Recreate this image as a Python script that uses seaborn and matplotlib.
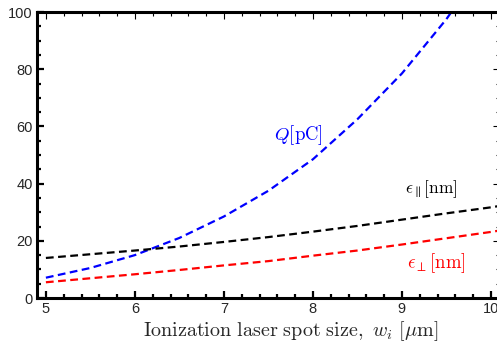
import matplotlib
matplotlib.use("Agg")
import matplotlib.pyplot as plt
import seaborn as sns
import pandas as pd
from matplotlib.ticker import MultipleLocator

# spot size w_i [um]
w_q = [5.0, 5.5, 6.0, 6.5, 7.0, 7.5, 8.0, 8.5, 9.0, 9.5, 9.6]
charge_pc = [7.1, 10.5, 15.0, 21.0, 28.5, 37.5, 48.5, 62.5, 78.5, 97.5, 102.0]

w_e = [5.0, 5.5, 6.0, 6.5, 7.0, 7.5, 8.0, 8.5, 9.0, 9.5, 10.0, 10.1]
eps_par_nm = [14.0, 15.3, 16.6, 18.0, 19.6, 21.3, 23.2, 25.2, 27.4, 29.6, 31.7, 32.2]
eps_perp_nm = [5.5, 6.9, 8.3, 9.8, 11.4, 12.9, 14.8, 16.6, 18.7, 20.9, 23.1, 23.6]

xticks = [5, 6, 7, 8, 9, 10]
yticks = [0, 20, 40, 60, 80, 100]

sns.set_style("ticks")
plt.rcParams["mathtext.fontset"] = "cm"
plt.rcParams["font.family"] = ["Liberation Sans", "DejaVu Sans"]

fig = plt.figure(figsize=(4.97, 3.42), dpi=100)
ax = fig.add_axes([37 / 497, 44 / 342, 462.8 / 497, 286 / 342])

df_q = pd.DataFrame({"w": w_q, "v": charge_pc})
df_e = pd.DataFrame({"w": w_e, "par": eps_par_nm, "perp": eps_perp_nm})

sns.lineplot(data=df_q, x="w", y="v", ax=ax, color=(0, 0, 1), linewidth=1.6,
             linestyle="--", sort=False, estimator=None)
sns.lineplot(data=df_e, x="w", y="par", ax=ax, color="black", linewidth=1.6,
             linestyle="--", sort=False, estimator=None)
sns.lineplot(data=df_e, x="w", y="perp", ax=ax, color=(1, 0, 0), linewidth=1.6,
             linestyle="--", sort=False, estimator=None)
for ln in ax.get_lines():
    ln.set_dashes((3.5, 2.0))
    ln.set_clip_on(True)

ax.set_xlim(4.9, 10.1)
ax.set_ylim(0, 100)
ax.set_xticks(xticks)
ax.set_xticklabels([str(t) for t in xticks])
ax.set_yticks(yticks)
ax.set_yticklabels([str(t) for t in yticks])
ax.xaxis.set_minor_locator(MultipleLocator(0.2))
ax.yaxis.set_minor_locator(MultipleLocator(5))

for side in ["left", "bottom", "top", "right"]:
    ax.spines[side].set_visible(True)
    ax.spines[side].set_linewidth(2.2)
    ax.spines[side].set_color("black")

ax.tick_params(axis="both", which="major", direction="in", length=5, width=1.6,
               color="black", labelsize=10.5, pad=3)
ax.tick_params(axis="both", which="minor", direction="in", length=3, width=1.6,
               color="black")
# faint ticks on the top/right edges (Mathematica-style frame)
ax.tick_params(axis="x", which="both", top=True, labeltop=False)
ax.tick_params(axis="y", which="both", right=True, labelright=False)
for t in ax.xaxis.get_major_ticks() + ax.xaxis.get_minor_ticks():
    t.tick2line.set_color("#c8c8c8")
    t.tick2line.set_markeredgewidth(0.8)
for t in ax.yaxis.get_major_ticks() + ax.yaxis.get_minor_ticks():
    t.tick2line.set_color("#c8c8c8")
    t.tick2line.set_markeredgewidth(0.8)

ax.set_xlabel(r"$\mathrm{Ionization\ laser\ spot\ size,}\ w_i\ [\mu\mathrm{m}]$",
              fontsize=14.5, labelpad=1)
ax.xaxis.set_label_coords(0.548, -0.075)
ax.set_ylabel("")

ax.text(7.84, 57, r"$Q[\mathrm{pC}]$", color=(0, 0, 1), fontsize=13.5,
        ha="center", va="center")
ax.text(9.33, 38, r"$\epsilon_{\parallel}[\mathrm{nm}]$", color="black",
        fontsize=12.5, ha="center", va="center")
ax.text(9.39, 12.2, r"$\epsilon_{\perp}[\mathrm{nm}]$", color=(1, 0, 0),
        fontsize=13.5, ha="center", va="center")

fig.savefig("out.png", dpi=100)
